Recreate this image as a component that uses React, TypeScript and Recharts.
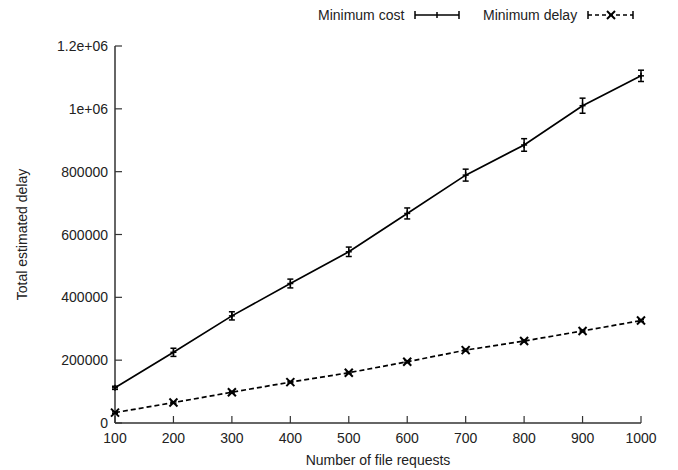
import React from 'react';
import { LineChart, Line, XAxis, YAxis, ErrorBar } from 'recharts';

// Number of file requests
const requests = [100, 200, 300, 400, 500, 600, 700, 800, 900, 1000];
// Minimum cost series and its error (half range)
const minCost = [112000, 225000, 341000, 444000, 545000, 667000, 789000, 885000, 1010000, 1105000];
const minCostErr = [5000, 13000, 13000, 14000, 15000, 17500, 19000, 20000, 24000, 18000];
// Minimum delay series and its error
const minDelay = [33000, 65000, 98000, 130000, 160000, 195000, 232000, 261000, 293000, 326000];
const minDelayErr = [2500, 2500, 2500, 2500, 2500, 3000, 3000, 3000, 3000, 3000];

const yTicks = [0, 200000, 400000, 600000, 800000, 1000000, 1200000];

const FONT = '"Liberation Sans", Arial, sans-serif';
const AXIS = '#333';
const TICK_LEN = 7;

const chartData = requests.map((r, i) => ({
  requests: r,
  cost: minCost[i],
  costErr: minCostErr[i],
  delay: minDelay[i],
  delayErr: minDelayErr[i],
}));

const formatY = (v: number) => {
  if (v === 1000000) return '1e+06';
  if (v === 1200000) return '1.2e+06';
  return String(v);
};

const BottomTick = ({ x, y, payload }: any) => (
  <g>
    <line x1={x} x2={x} y1={y} y2={y - TICK_LEN} stroke={AXIS} strokeWidth={1.2} />
    <text x={x} y={y + 20} textAnchor="middle" fontSize={14} fontFamily={FONT} fill="#222">
      {payload.value}
    </text>
  </g>
);

const TopTick = ({ x, y }: any) => (
  <line x1={x} x2={x} y1={y} y2={y + TICK_LEN} stroke={AXIS} strokeWidth={1.2} />
);

const LeftTick = ({ x, y, payload }: any) => (
  <g>
    <line x1={x} x2={x + TICK_LEN} y1={y} y2={y} stroke={AXIS} strokeWidth={1.2} />
    <text x={x - 7} y={y + 5} textAnchor="end" fontSize={14} fontFamily={FONT} fill="#222">
      {formatY(payload.value)}
    </text>
  </g>
);

const RightTick = ({ x, y }: any) => (
  <line x1={x} x2={x - TICK_LEN} y1={y} y2={y} stroke={AXIS} strokeWidth={1.2} />
);

const PlusDot = ({ cx, cy, index }: any) => (
  <g key={`p-${index}`}>
    <line x1={cx - 3} x2={cx + 3} y1={cy} y2={cy} stroke="#000" strokeWidth={1.5} />
    <line x1={cx} x2={cx} y1={cy - 3} y2={cy + 3} stroke="#000" strokeWidth={1.5} />
  </g>
);

const CrossDot = ({ cx, cy, index }: any) => (
  <g key={`x-${index}`}>
    <line x1={cx - 4} x2={cx + 4} y1={cy - 4} y2={cy + 4} stroke="#000" strokeWidth={2} />
    <line x1={cx - 4} x2={cx + 4} y1={cy + 4} y2={cy - 4} stroke="#000" strokeWidth={2} />
  </g>
);

const LegendBox = () => (
  <svg width={678} height={32} style={{ position: 'absolute', left: 0, top: 0 }}>
    <g fontFamily={FONT} fontSize={14} fill="#222">
      <text x={318} y={20}>Minimum cost</text>
      <text x={483} y={20}>Minimum delay</text>
    </g>
    <g stroke="#000" strokeWidth={1.5}>
      <line x1={415} x2={459} y1={15} y2={15} />
      <line x1={415} x2={415} y1={11} y2={19} />
      <line x1={459} x2={459} y1={11} y2={19} />
      <line x1={437} x2={437} y1={12} y2={18} />
      <line x1={588} x2={633} y1={15} y2={15} strokeDasharray="4 3" />
      <line x1={588} x2={588} y1={11} y2={19} />
      <line x1={633} x2={633} y1={11} y2={19} />
      <line x1={607} x2={615} y1={11} y2={19} strokeWidth={2} />
      <line x1={607} x2={615} y1={19} y2={11} strokeWidth={2} />
    </g>
  </svg>
);

export default function App() {
  return (
    <div style={{ position: 'absolute', left: 0, top: 0, width: 678, height: 470, background: '#fff' }}>
      <LineChart
        width={678}
        height={470}
        data={chartData}
        margin={{ top: 46, right: 37, bottom: 0, left: 0 }}
      >
        <XAxis
          dataKey="requests"
          type="number"
          domain={[100, 1000]}
          ticks={requests}
          height={47}
          tickSize={0}
          tickMargin={0}
          tickLine={false}
          axisLine={{ stroke: AXIS, strokeWidth: 1.5 }}
          tick={<BottomTick />}
          interval={0}
          label={{
            content: ({ viewBox }: any) => (
              <text
                x={viewBox.x + viewBox.width / 2}
                y={465}
                textAnchor="middle"
                fontSize={14}
                fontFamily={FONT}
                fill="#222"
              >
                Number of file requests
              </text>
            ),
          }}
        />
        <XAxis
          xAxisId="top"
          orientation="top"
          type="number"
          dataKey="requests"
          domain={[100, 1000]}
          ticks={requests}
          height={0}
          tickSize={0}
          tickMargin={0}
          tickLine={false}
          axisLine={{ stroke: AXIS, strokeWidth: 1.5 }}
          tick={<TopTick />}
          interval={0}
        />
        <YAxis
          type="number"
          domain={[0, 1200000]}
          ticks={yTicks}
          width={115}
          tickSize={0}
          tickMargin={0}
          tickLine={false}
          axisLine={{ stroke: AXIS, strokeWidth: 1.5 }}
          tick={<LeftTick />}
          interval={0}
          label={{
            content: ({ viewBox }: any) => {
              const cy = viewBox.y + viewBox.height / 2;
              return (
                <text
                  x={27}
                  y={cy}
                  transform={`rotate(-90 27 ${cy})`}
                  textAnchor="middle"
                  fontSize={14}
                  fontFamily={FONT}
                  fill="#222"
                >
                  Total estimated delay
                </text>
              );
            },
          }}
        />
        <YAxis
          yAxisId="right"
          orientation="right"
          type="number"
          domain={[0, 1200000]}
          ticks={yTicks}
          width={0}
          tickSize={0}
          tickMargin={0}
          tickLine={false}
          axisLine={{ stroke: AXIS, strokeWidth: 1.5 }}
          tick={<RightTick />}
          interval={0}
        />
        <Line
          type="linear"
          dataKey="cost"
          stroke="#000"
          strokeWidth={1.7}
          dot={PlusDot}
          activeDot={false}
          isAnimationActive={false}
        >
          <ErrorBar dataKey="costErr" width={3} stroke="#000" strokeWidth={1.5} direction="y" />
        </Line>
        <Line
          type="linear"
          dataKey="delay"
          stroke="#000"
          strokeWidth={1.7}
          strokeDasharray="5 3"
          dot={CrossDot}
          activeDot={false}
          isAnimationActive={false}
        >
          <ErrorBar dataKey="delayErr" width={3} stroke="#000" strokeWidth={1.5} direction="y" />
        </Line>
      </LineChart>
      <LegendBox />
    </div>
  );
}
